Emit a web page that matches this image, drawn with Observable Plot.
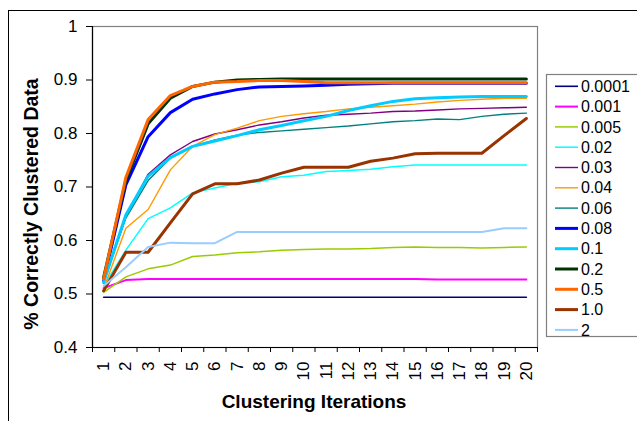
<!DOCTYPE html>
<html><head><meta charset="utf-8">
<script src="https://cdn.jsdelivr.net/npm/d3@7"></script>
<script src="https://cdn.jsdelivr.net/npm/@observablehq/plot@0.6"></script>
<style>body{margin:0;background:#fff;font-family:"Liberation Sans",Arial,sans-serif}</style>
</head><body><div id="chart"></div><script>
const iterations = [1,2,3,4,5,6,7,8,9,10,11,12,13,14,15,16,17,18,19,20];
const yTicks = [0.4,0.5,0.6,0.7,0.8,0.9,1.0];
const seriesNames = ["0.0001","0.001","0.005","0.02","0.03","0.04","0.06","0.08","0.1","0.2","0.5","1.0","2"];

const v0001 = [0.494,0.494,0.494,0.494,0.494,0.494,0.494,0.494,0.494,0.494,0.494,0.494,0.494,0.494,0.494,0.494,0.494,0.494,0.494,0.494];
const v001 = [0.511,0.526,0.528,0.528,0.528,0.528,0.528,0.528,0.528,0.528,0.528,0.528,0.528,0.528,0.528,0.527,0.527,0.527,0.527,0.527];
const v005 = [0.503,0.532,0.547,0.554,0.570,0.573,0.577,0.579,0.582,0.583,0.584,0.584,0.585,0.587,0.588,0.587,0.587,0.586,0.587,0.588];
const v02 = [0.515,0.582,0.641,0.661,0.689,0.698,0.707,0.710,0.719,0.722,0.729,0.731,0.733,0.738,0.741,0.741,0.741,0.741,0.741,0.741];
const v03 = [0.520,0.645,0.724,0.760,0.785,0.799,0.807,0.816,0.822,0.829,0.834,0.836,0.838,0.841,0.842,0.844,0.846,0.847,0.848,0.849];
const v04 = [0.510,0.623,0.658,0.732,0.776,0.798,0.810,0.824,0.832,0.837,0.841,0.846,0.849,0.852,0.855,0.859,0.862,0.864,0.866,0.866];
const v06 = [0.525,0.642,0.712,0.754,0.776,0.788,0.797,0.802,0.805,0.808,0.811,0.814,0.818,0.822,0.824,0.827,0.826,0.832,0.836,0.838];
const v08 = [0.525,0.704,0.794,0.839,0.864,0.874,0.882,0.887,0.888,0.889,0.890,0.892,0.893,0.894,0.894,0.894,0.894,0.894,0.894,0.894];
const v1 = [0.522,0.648,0.720,0.755,0.776,0.786,0.796,0.807,0.815,0.824,0.832,0.843,0.852,0.860,0.865,0.867,0.868,0.869,0.869,0.869];
const v2 = [0.531,0.712,0.818,0.866,0.888,0.896,0.900,0.901,0.902,0.902,0.902,0.902,0.902,0.902,0.902,0.902,0.902,0.902,0.902,0.902];
const v5 = [0.528,0.718,0.826,0.871,0.888,0.896,0.897,0.899,0.899,0.897,0.895,0.895,0.895,0.895,0.895,0.895,0.895,0.895,0.895,0.895];
const v10 = [0.506,0.578,0.578,0.633,0.687,0.706,0.706,0.713,0.726,0.737,0.737,0.737,0.748,0.754,0.762,0.763,0.763,0.763,0.796,0.828];
const v20 = [0.515,0.550,0.588,0.596,0.595,0.595,0.616,0.616,0.616,0.616,0.616,0.616,0.616,0.616,0.616,0.616,0.616,0.616,0.623,0.623];
const seriesValues = [v0001,v001,v005,v02,v03,v04,v06,v08,v1,v2,v5,v10,v20];

const seriesColors = ["#000080","#FF00FF","#99CC00","#00FFFF","#800080","#FF9900","#008080","#0000FF","#00CCFF","#003300","#FF6600","#993300","#99CCFF"];
const seriesWidths = [1.6,2,1.5,1.5,1.4,1.4,1.4,3,3,3,3,3,2];

const data = seriesNames.flatMap((name, k) =>
  seriesValues[k].map((v, i) => ({series: name, iter: iterations[i], value: v})));
const boundaries = iterations.map(i => i - 0.5).concat([iterations[iterations.length - 1] + 0.5]);

const font = "Liberation Sans, Arial, sans-serif";
const plot = Plot.plot({
  width: 637, height: 421,
  marginLeft: 92, marginRight: 100, marginTop: 26, marginBottom: 74,
  style: {fontFamily: font, fontSize: "17px", color: "#000", background: "#fff", overflow: "visible"},
  x: {type: "linear", domain: [0.5, 20.5], axis: null},
  y: {domain: [0.4, 1.0], axis: null},
  color: {domain: seriesNames, range: seriesColors},
  marks: [
    Plot.frame({stroke: "#808080", strokeWidth: 1.2}),
    Plot.axisY(yTicks, {tickSize: 6, tickPadding: 9, fontSize: 17, label: null,
      tickFormat: d => d === 1 ? "1" : d.toFixed(1)}),
    Plot.axisX(boundaries, {tickSize: 5, tickFormat: () => "", label: null}),
    Plot.axisX(iterations, {tickSize: 0, tickRotate: -90, tickPadding: 14, fontSize: 17, label: null}),
    ...seriesNames.map((name, k) => Plot.line(data.filter(d => d.series === name),
      {x: "iter", y: "value", stroke: "series", strokeWidth: seriesWidths[k]})),
    Plot.ruleX([0.5], {stroke: "#000", strokeWidth: 1.2}),
    Plot.ruleY([0.4], {stroke: "#000", strokeWidth: 1.2})
  ]
});
document.getElementById("chart").appendChild(plot);

const svg = d3.select(plot);
const color = plot.scale("color");
// outer chart frame
svg.insert("rect", ":first-child").attr("x", 8.5).attr("y", 10.5).attr("width", 640).attr("height", 420)
  .attr("fill", "#fff").attr("stroke", "#000").attr("stroke-width", 1);
// axis titles
svg.append("text").attr("x", 314).attr("y", 408).attr("text-anchor", "middle")
  .attr("font-family", font).attr("font-size", 19).attr("font-weight", "bold").text("Clustering Iterations");
svg.append("text").attr("transform", "translate(38,204) rotate(-90)").attr("text-anchor", "middle")
  .attr("font-family", font).attr("font-size", 19.5).attr("font-weight", "bold").text("% Correctly Clustered Data");
// legend
const lg = svg.append("g");
lg.append("rect").attr("x", 546.5).attr("y", 74.5).attr("width", 100).attr("height", 262)
  .attr("fill", "#fff").attr("stroke", "#808080").attr("stroke-width", 1.2);
seriesNames.forEach((name, k) => {
  const cy = 86.3 + k * 20.3;
  lg.append("line").attr("x1", 555).attr("x2", 578).attr("y1", cy).attr("y2", cy)
    .attr("stroke", color.apply(name)).attr("stroke-width", seriesWidths[k]);
  lg.append("text").attr("x", 581).attr("y", cy).attr("dy", "0.35em").attr("text-anchor", "start")
    .attr("font-family", font).attr("font-size", 16).text(name);
});
</script></body></html>
